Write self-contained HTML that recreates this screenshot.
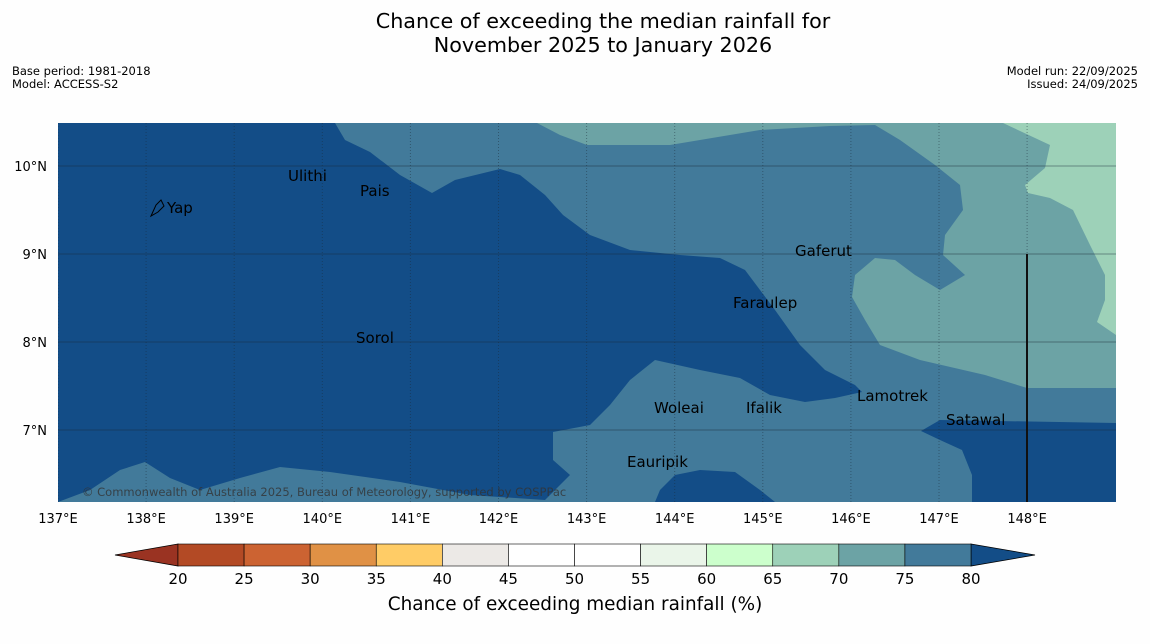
<!DOCTYPE html>
<html><head><meta charset="utf-8"><style>
body{margin:0;background:#fff;font-family:"Liberation Sans","DejaVu Sans",sans-serif;}
svg{display:block}
</style></head><body>
<svg width="1150" height="644" viewBox="0 0 1150 644" xmlns="http://www.w3.org/2000/svg" font-family="DejaVu Sans, Liberation Sans, sans-serif">
<rect width="1150" height="644" fill="#fefefe"/>
<text x="603" y="28" font-size="20.7" text-anchor="middle">Chance of exceeding the median rainfall for</text>
<text x="603" y="52" font-size="20.7" text-anchor="middle">November 2025 to January 2026</text>
<text x="12" y="75" font-size="11.5">Base period: 1981-2018</text>
<text x="12" y="88" font-size="11.5">Model: ACCESS-S2</text>
<text x="1138" y="75" font-size="11.5" text-anchor="end">Model run: 22/09/2025</text>
<text x="1138" y="88" font-size="11.5" text-anchor="end">Issued: 24/09/2025</text>
<defs><clipPath id="mc"><rect x="58" y="123" width="1058" height="379"/></clipPath></defs>
<g clip-path="url(#mc)">
<rect x="58" y="123" width="1058" height="379" fill="#427a9a"/>
<polygon fill="#134d87" points="58,123 335,123 345,140 370,152 400,175 432,193 455,180 500,169 520,175 545,195 563,215 590,235 630,250 680,255 720,258 745,270 760,290 775,310 800,345 825,370 855,385 862,392 835,398 805,402 770,395 740,378 700,370 655,360 630,380 610,405 590,425 553,432 553,460 570,475 545,500 470,495 400,482 330,472 280,467 240,478 200,490 170,478 145,462 120,470 90,490 58,502"/>
<polygon fill="#134d87" points="655,502 660,490 675,475 700,470 735,472 760,490 775,502"/>
<polygon fill="#134d87" points="921,431 940,420 1116,423 1116,502 972,502 972,475 962,450 940,440"/>
<polygon fill="#6ca3a5" points="537,123 560,135 587,145 670,145 700,140 760,130 830,126 875,125 900,140 935,165 960,185 963,210 945,235 943,255 965,275 940,290 915,275 895,260 875,258 855,275 852,297 865,320 880,345 920,360 985,375 1027,388 1116,388 1116,123"/>
<polygon fill="#9dd1b8" points="1003,123 1050,145 1045,168 1025,185 1028,193 1050,198 1073,210 1090,245 1105,275 1105,300 1097,322 1116,335 1116,123"/>
<g id="grid" stroke="#1a2a3a" stroke-opacity="0.45" stroke-width="1"></g>
<line x1="1027" y1="254" x2="1027" y2="502" stroke="#111" stroke-width="2"/>
<g font-size="15" fill="#000">
<text x="288" y="181">Ulithi</text>
<text x="360" y="196">Pais</text>
<text x="167" y="213">Yap</text>
<path d="M151,216 L156,205 L161,200 L164,206 L158,212 Z" fill="none" stroke="#000" stroke-width="1"/>
<text x="795" y="256">Gaferut</text>
<text x="733" y="308">Faraulep</text>
<text x="356" y="343">Sorol</text>
<text x="654" y="413">Woleai</text>
<text x="746" y="413">Ifalik</text>
<text x="857" y="401">Lamotrek</text>
<text x="946" y="425">Satawal</text>
<text x="627" y="467">Eauripik</text>
</g>
<text x="82" y="496" font-size="11.5" fill="#333" fill-opacity="0.8">© Commonwealth of Australia 2025, Bureau of Meteorology, supported by COSPPac</text>
</g>
<g id="axes" font-size="13"></g>
<g id="cbar"></g>
<text x="575" y="610" font-size="18.4" text-anchor="middle">Chance of exceeding median rainfall (%)</text>
</svg>
<script>
const lonTicks=[137,138,139,140,141,142,143,144,145,146,147,148];
const latTicks=[7,8,9,10];
const cbarBounds=[20,25,30,35,40,45,50,55,60,65,70,75,80];
const cbarColors=["#b34a25","#cc6332","#e09145","#ffcc66","#ece9e6","#ffffff","#ffffff","#eaf5e9","#ccffcc","#9dd1b8","#6ca3a5","#427a9a"];
const NS="http://www.w3.org/2000/svg";
const xLon=l=>58+(l-137)*88.1;
const yLat=l=>166+(10-l)*88;
const xC=v=>178+(v-20)*(971-178)/60;
function mk(t,a,p){const e=document.createElementNS(NS,t);for(const k in a)e.setAttribute(k,a[k]);p.appendChild(e);return e;}
const grid=document.getElementById('grid'),axes=document.getElementById('axes'),cb=document.getElementById('cbar');
lonTicks.forEach(l=>{const x=xLon(l);
 const g=mk('line',{x1:x,y1:123,x2:x,y2:502,'stroke-dasharray':'1,2'},grid);
 
 
 const t=mk('text',{x:x,y:523,'text-anchor':'middle'},axes);t.textContent=l+'°E';
 
 
});
latTicks.forEach(l=>{const y=yLat(l);
 const g=mk('line',{x1:58,y1:y,x2:1116,y2:y},grid);
 
 
 const t=mk('text',{x:47,y:y+5,'text-anchor':'end'},axes);t.textContent=l+'°N';
 
 
});
const y0=544,y1=566;
const lt=mk('polygon',{points:`${xC(20)},${y0} 115,555 ${xC(20)},${y1}`,fill:'#9a3322',stroke:'#000','stroke-width':0.8},cb);


const rt=mk('polygon',{points:`${xC(80)},${y0} 1035,555 ${xC(80)},${y1}`,fill:'#134d87',stroke:'#000','stroke-width':0.8},cb);


cbarColors.forEach((c,i)=>{const a=xC(cbarBounds[i]),b=xC(cbarBounds[i+1]);
 const r=mk('rect',{x:a,y:y0,width:b-a,height:y1-y0,fill:c,stroke:'#000','stroke-width':0.6},cb);
 
 
});
cbarBounds.forEach(v=>{
 const t=mk('text',{x:xC(v),y:584,'text-anchor':'middle','font-size':15},cb);t.textContent=v;
 
 
});
</script>
</body></html>
